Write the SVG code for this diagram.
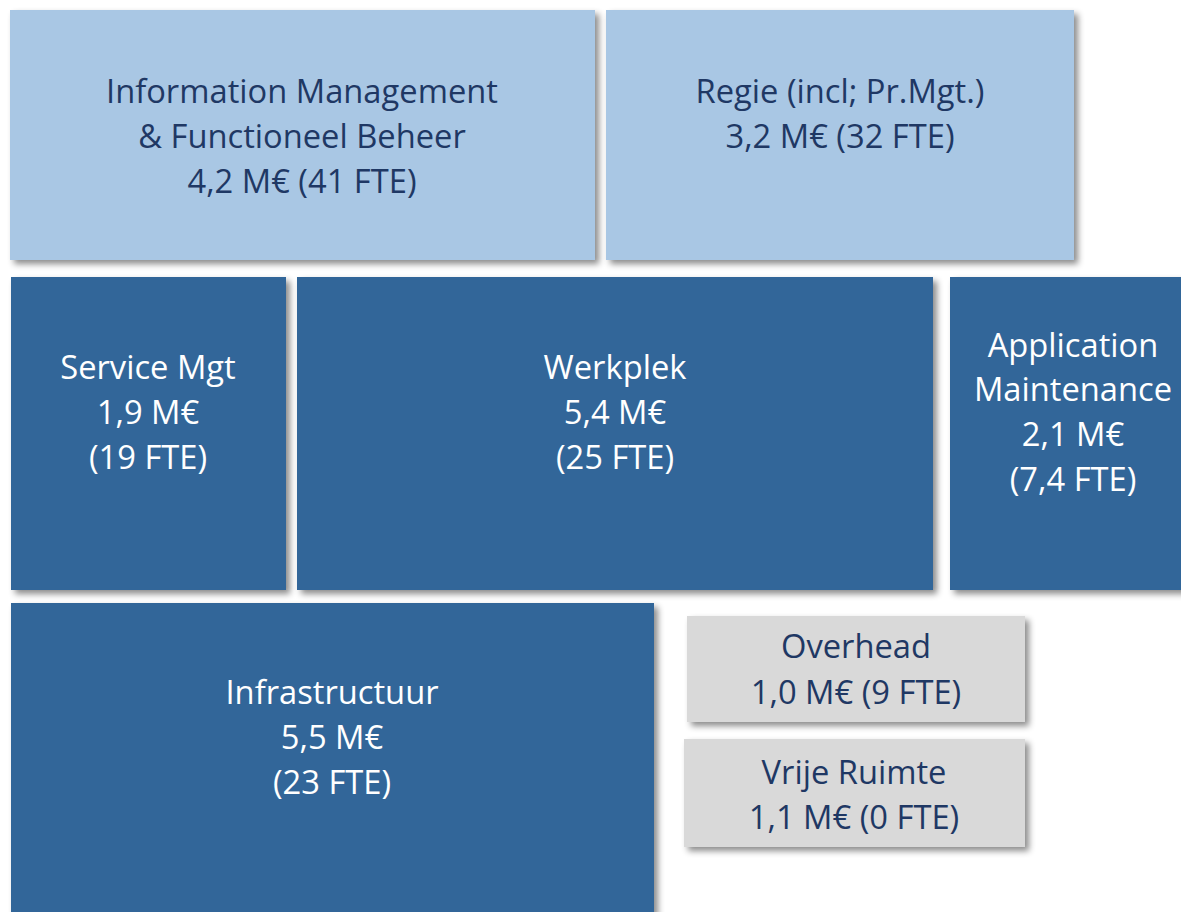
<svg xmlns="http://www.w3.org/2000/svg" width="1181" height="912" viewBox="0 0 1181 912">
<defs>
<filter id="sh" x="-10%" y="-10%" width="130%" height="130%">
<feDropShadow dx="4" dy="4" stdDeviation="3" flood-color="#000" flood-opacity="0.45"/>
</filter>
<style>
.light{fill:#A9C7E4;filter:url(#sh)}
.dark{fill:#336699;filter:url(#sh)}
.gray{fill:#D9D9D9;filter:url(#sh)}
text{font-family:"Open Sans","Noto Sans",sans-serif;font-size:32.7px;text-anchor:middle}
.tn{fill:#1F3864}
.tw{fill:#FFFFFF}
</style>
</defs>
<rect width="1181" height="912" fill="#FFFFFF"/>
<g id="info-mgmt">
<rect class="light" x="10" y="10" width="585" height="250"/>
<text class="tn" x="302" y="103">Information Management</text>
<text class="tn" x="302" y="148">&amp; Functioneel Beheer</text>
<text class="tn" x="302" y="193">4,2 M€ (41 FTE)</text>
</g>
<g id="regie">
<rect class="light" x="606" y="10" width="468" height="250"/>
<text class="tn" x="840" y="103">Regie (incl; Pr.Mgt.)</text>
<text class="tn" x="840" y="148">3,2 M€ (32 FTE)</text>
</g>
<g id="service-mgt">
<rect class="dark" x="11" y="277" width="275" height="313"/>
<text class="tw" x="148" y="379">Service Mgt</text>
<text class="tw" x="148" y="424">1,9 M€</text>
<text class="tw" x="148" y="469">(19 FTE)</text>
</g>
<g id="werkplek">
<rect class="dark" x="297" y="277" width="636" height="313"/>
<text class="tw" x="615" y="379">Werkplek</text>
<text class="tw" x="615" y="424">5,4 M€</text>
<text class="tw" x="615" y="469">(25 FTE)</text>
</g>
<g id="application-maintenance">
<rect class="dark" x="950" y="277" width="240" height="313"/>
<text class="tw" x="1073" y="357">Application</text>
<text class="tw" x="1073" y="401">Maintenance</text>
<text class="tw" x="1073" y="446">2,1 M€</text>
<text class="tw" x="1073" y="491">(7,4 FTE)</text>
</g>
<g id="infrastructuur">
<rect class="dark" x="11" y="603" width="643" height="320"/>
<text class="tw" x="332" y="704">Infrastructuur</text>
<text class="tw" x="332" y="749">5,5 M€</text>
<text class="tw" x="332" y="794">(23 FTE)</text>
</g>
<g id="overhead">
<rect class="gray" x="687" y="616" width="338" height="106"/>
<text class="tn" x="856" y="658">Overhead</text>
<text class="tn" x="856" y="704">1,0 M€ (9 FTE)</text>
</g>
<g id="vrije-ruimte">
<rect class="gray" x="684" y="739" width="341" height="108"/>
<text class="tn" x="854" y="784">Vrije Ruimte</text>
<text class="tn" x="854" y="829">1,1 M€ (0 FTE)</text>
</g>
<g id="connectors"/>
</svg>
